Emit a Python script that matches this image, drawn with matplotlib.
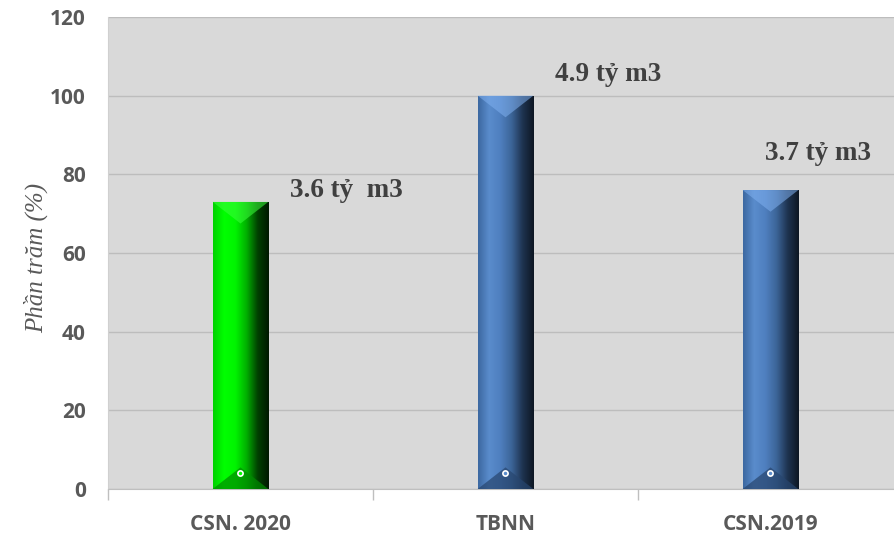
import numpy as np
import matplotlib.pyplot as plt
from matplotlib.colors import LinearSegmentedColormap
from matplotlib.patches import Polygon

categories = ['CSN. 2020', 'TBNN', 'CSN.2019']
values = [73, 100, 76]
labels = ['3.6 tỷ  m3', '4.9 tỷ m3', '3.7 tỷ m3']
yticks = [0, 20, 40, 60, 80, 100, 120]

palettes = [
    ['#00d000', '#00ff00', '#00f400', '#00b000', '#004000', '#001800'],
    ['#3c68a0', '#5a8ccc', '#4f7fbf', '#3c6598', '#1e3350', '#0d1622'],
    ['#3c68a0', '#5a8ccc', '#4f7fbf', '#3c6598', '#1e3350', '#0d1622'],
]
top_colors = ['#3cff3c', '#7fb0f0', '#7fb0f0']
bot_colors = ['#008c00', '#27456e', '#27456e']

fig = plt.figure(figsize=(8.95, 5.38), dpi=100)
ax = fig.add_axes([108 / 895, 49 / 538, 795 / 895, 472 / 538])
ax.set_facecolor('#d9d9d9')

x = np.arange(len(categories))
width = 0.21
bars = ax.bar(x, values, width=width, color='none', zorder=3)

grad = np.linspace(0, 1, 256).reshape(1, -1)
for i, b in enumerate(bars):
    x0, w, h = b.get_x(), b.get_width(), b.get_height()
    cmap = LinearSegmentedColormap.from_list('g%d' % i, palettes[i])
    im = ax.imshow(grad, cmap=cmap, aspect='auto', extent=[x0, x0 + w, 0, h],
                   zorder=3, interpolation='bicubic')
    im.set_clip_path(b)
    bev = 5.5
    ax.add_patch(Polygon([[x0, h], [x0 + w, h], [x0 + w / 2, h - bev]],
                         closed=True, facecolor=top_colors[i], alpha=0.55,
                         edgecolor='none', zorder=4))
    ax.add_patch(Polygon([[x0, 0], [x0 + w, 0], [x0 + w / 2, bev]],
                         closed=True, facecolor=bot_colors[i], alpha=0.7,
                         edgecolor='none', zorder=4))
    ax.scatter([x0 + w / 2], [4], s=14, facecolor=palettes[i][1],
               edgecolor='white', linewidth=1.2, zorder=5)

ax.set_xlim(-0.5, 2.5)
ax.set_ylim(0, 120)
ax.set_yticks(yticks)
ax.yaxis.grid(True, color='#bdbdbd', linewidth=1)
ax.set_axisbelow(True)
ax.set_xticks(x)
ax.set_xticklabels(categories)
ax.set_xticks([-0.5, 0.5, 1.5], minor=True)
ax.tick_params(axis='x', which='major', length=0, pad=18)
ax.tick_params(axis='x', which='minor', length=8, color='#bfbfbf', width=1)
ax.tick_params(axis='y', length=0, pad=16)
for lab in ax.get_xticklabels() + ax.get_yticklabels():
    lab.set_fontfamily('Open Sans')
    lab.set_fontweight('bold')
    lab.set_fontsize(15)
    lab.set_color('#595959')
for s in ['top', 'right']:
    ax.spines[s].set_visible(False)
ax.spines['left'].set_color('#d0d0d0')
ax.spines['bottom'].set_color('#bfbfbf')

ax.set_ylabel('Phần trăm (%)', family='Liberation Serif', style='italic',
              fontsize=18, color='#595959', labelpad=8)
ax.yaxis.set_label_coords(-0.075, 0.49)

label_pos = [(0.187, 76.0), (1.187, 105.3), (1.979, 85.4)]
for (lx, ly), t in zip(label_pos, labels):
    ax.text(lx, ly, t, family='Liberation Serif', fontweight='bold',
            fontsize=19.5, color='#404040', ha='left', va='center', zorder=6)

fig.savefig('out.png', dpi=100)
